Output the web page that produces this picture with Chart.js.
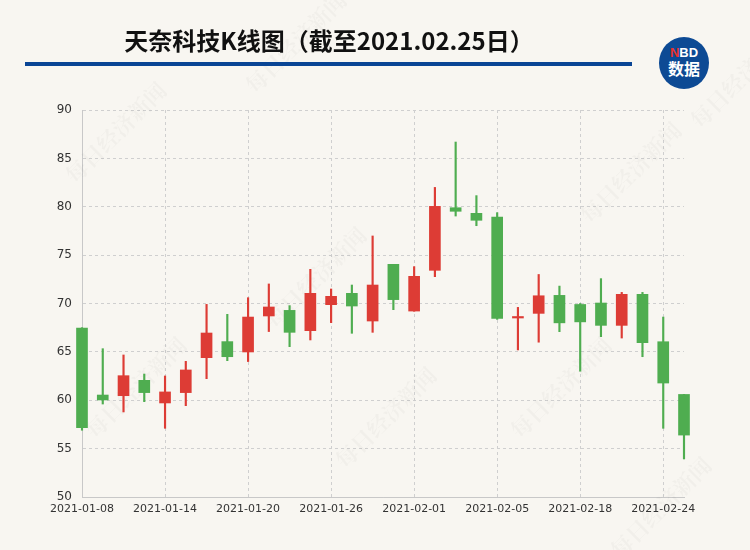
<!DOCTYPE html>
<html>
<head>
<meta charset="utf-8">
<script src="https://cdn.jsdelivr.net/npm/chart.js@4.4.1/dist/chart.umd.min.js"></script>
<style>
  body { margin: 0; background: #f8f6f1; font-family: "Noto Sans CJK SC", sans-serif; }
  #wrap { position: relative; width: 750px; height: 550px; overflow: hidden; }
  #title { position: absolute; left: 0; width: 658px; top: 22px; text-align: center; font-size: 24px; font-weight: bold; color: #111; }
  #rule { position: absolute; left: 25px; top: 62px; width: 607px; height: 4px; background: #0a4595; }
  #logo { position: absolute; left: 659px; top: 37px; width: 50px; height: 52px; border-radius: 50%; background: #0d4a94; color: #fff; text-align: center; font-weight: bold; font-family: "Noto Sans CJK SC", sans-serif; }
  #logo .a { font-size: 13px; line-height: 13px; margin-top: 9px; font-family: Arial, "Liberation Sans", sans-serif; }
  #logo .a span { color: #e8322b; }
  #logo .b { font-size: 16px; line-height: 18px; }
  canvas { position: absolute; left: 0; top: 0; }
</style>
</head>
<body>
<div id="wrap">
  <canvas id="kChart" width="750" height="550"></canvas>
  <div id="title">天奈科技K线图（截至2021.02.25日）</div>
  <div id="rule"></div>
  <div id="logo"><div class="a"><span>N</span>BD</div><div class="b">数据</div></div>
</div>
<script>
const dates = ['2021-01-08','2021-01-11','2021-01-12','2021-01-13','2021-01-14','2021-01-15','2021-01-18','2021-01-19','2021-01-20','2021-01-21',
  '2021-01-22','2021-01-25','2021-01-26','2021-01-27','2021-01-28','2021-01-29','2021-02-01','2021-02-02','2021-02-03','2021-02-04',
  '2021-02-05','2021-02-08','2021-02-09','2021-02-10','2021-02-18','2021-02-19','2021-02-22','2021-02-23','2021-02-24','2021-02-25'];
const openPrices  = [67.47,60.54,60.47,62.06,59.72,60.79,64.40,66.06,64.99,68.71,69.29,67.19,69.88,71.05,68.19,74.05,69.22,73.43,79.90,79.32,78.94,68.50,68.98,70.84,69.90,70.05,67.74,70.95,66.05,60.60];
const closePrices = [57.17,60.03,62.54,60.79,60.86,63.13,66.95,64.50,68.60,69.64,67.02,71.05,70.74,69.74,71.91,70.40,72.81,80.04,79.53,78.60,68.47,68.60,70.80,68.00,68.10,67.74,70.95,65.95,61.78,56.40];
const highPrices  = [67.50,65.33,64.68,62.71,62.51,64.02,69.91,68.88,70.60,72.02,69.78,73.53,71.50,71.91,76.98,74.05,73.81,82.00,86.69,81.15,79.39,69.60,73.00,71.80,70.00,72.57,71.15,71.15,68.60,60.60];
const lowPrices   = [56.90,59.61,58.79,59.85,57.10,59.44,62.23,64.09,64.00,67.10,65.54,66.23,68.02,66.92,67.02,69.36,69.20,72.77,79.04,78.04,68.36,65.20,66.00,67.09,63.00,66.57,66.43,64.50,57.10,53.93];

const RED = '#dd3c35', GREEN = '#4fad50';
const colors = openPrices.map((o, i) => closePrices[i] >= o ? RED : GREEN);

// faint rotated watermark text
const watermark = {
  id: 'watermark',
  beforeDatasetsDraw(chart) {
    const c = chart.ctx;
    c.save();
    c.font = 'bold 22px "Noto Serif CJK SC", "Noto Sans CJK SC"';
    c.fillStyle = 'rgba(0,0,0,0.028)';
    [[75, 185], [255, 95], [95, 440], [275, 330], [345, 470], [520, 440], [590, 225], [620, 560], [700, 130]].forEach(([x, y]) => {
      c.save(); c.translate(x, y); c.rotate(-Math.PI / 4); c.fillText('每日经济新闻', 0, 0); c.restore();
    });
    c.restore();
  }
};

new Chart(document.getElementById('kChart'), {
  type: 'bar',
  data: {
    labels: dates,
    datasets: [
      { label: 'wick', data: lowPrices.map((l, i) => [l, highPrices[i]]), backgroundColor: colors, barThickness: 1.5, grouped: false, clip: false, order: 2 },
      { label: 'body', data: openPrices.map((o, i) => [o, closePrices[i]]), backgroundColor: colors, barThickness: 11, minBarLength: 1.5, grouped: false, clip: false, order: 1 }
    ]
  },
  options: {
    responsive: false,
    animation: false,
    layout: { padding: { top: 110, right: 66, left: 0, bottom: 0 } },
    plugins: { legend: { display: false }, tooltip: { enabled: false } },
    scales: {
      x: {
        offset: false,
        afterFit: s => { s.height = 53; },
        grid: { offset: false, color: '#cfcfcf', drawTicks: false },
        border: { color: '#c8c8c8', dash: [3, 3] },
        ticks: {
          autoSkip: false, maxRotation: 0, padding: 6, color: '#333', font: { size: 11, family: 'Tahoma, "DejaVu Sans", sans-serif' },
          callback: (v, i) => i % 4 === 0 ? dates[i] : null
        }
      },
      y: {
        min: 50, max: 90,
        afterFit: s => { s.width = 82; },
        grid: { color: '#cfcfcf', drawTicks: false },
        border: { color: '#c8c8c8', dash: [3, 3] },
        ticks: { stepSize: 5, padding: 10, color: '#333', font: { size: 12, family: 'Tahoma, "DejaVu Sans", sans-serif' } }
      }
    }
  },
  plugins: [watermark]
});
</script>
</body>
</html>
